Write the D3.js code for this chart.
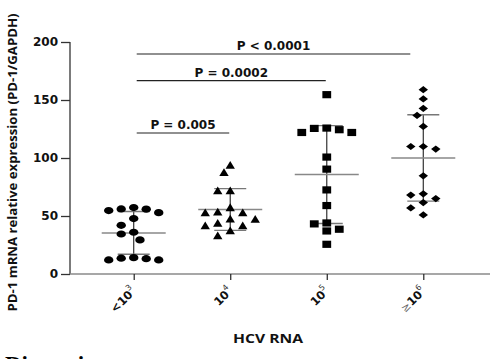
<!DOCTYPE html>
<html>
<head>
<meta charset="utf-8">
<script src="https://cdn.jsdelivr.net/npm/d3@7"></script>
<style>
  html, body { margin: 0; padding: 0; background: #fff; }
  svg { display: block; }
</style>
</head>
<body>
<svg id="chart" width="490" height="359"></svg>
<script>
// ---------- data ----------
const categories = ["g1", "g2", "g3", "g4"];
const categoryBase = ["<10", "10", "10", "\u226510"];
const categoryExp = ["3", "4", "5", "6"];
const markerShapes = ["circle", "triangle", "square", "diamond"];

const group1 = [57.3, 56.1, 55.9, 54.7, 52.9, 47.8, 42.0, 36.0, 34.5, 29.4, 14.1, 13.6, 13.2, 12.1, 12.1];
const group2 = [93.9, 87.5, 71.9, 71.9, 57.3, 53.5, 52.9, 52.9, 47.5, 47.2, 43.8, 41.7, 41.7, 37.4, 33.1];
const group3 = [154.6, 125.8, 125.5, 124.4, 122.0, 122.0, 100.8, 90.4, 72.5, 59.0, 44.0, 43.2, 38.6, 37.1, 25.6];
const group4 = [158.9, 150.9, 142.7, 136.7, 127.2, 109.9, 109.9, 107.7, 84.6, 69.1, 68.0, 65.0, 61.6, 57.0, 50.9];
const groups = [group1, group2, group3, group4];

const yTicks = [0, 50, 100, 150, 200];

const sigFrom = [0, 0, 0];
const sigTo = [1, 2, 3];
const sigLevel = [121.5, 166.7, 189.7];
const sigLabels = ["P = 0.005", "P = 0.0002", "P < 0.0001"];

const yTitle = "PD-1 mRNA relative expression (PD-1/GAPDH)";
const xTitle = "HCV RNA";

// ---------- layout ----------
const svg = d3.select("#chart");
const x0 = 70, x1 = 487, yTop = 42, yBot = 274;
const x = d3.scalePoint().domain(categories).range([x0, x1]).padding(0.66);
const y = d3.scaleLinear().domain([0, 200]).range([yBot, yTop]);

// custom marker shapes (slightly wider than tall, as in the figure)
const W = 9.4, H = 7.2;
const shapeTypes = {
  square: { draw(c) { c.rect(-W / 2 + 0.3, -H / 2, W - 0.6, H); } },
  triangle: { draw(c) { c.moveTo(0, -H / 2 - 0.6); c.lineTo(W / 2, H / 2); c.lineTo(-W / 2, H / 2); c.closePath(); } },
  diamond: { draw(c) { c.moveTo(0, -H / 2); c.lineTo(W / 2, 0); c.lineTo(0, H / 2); c.lineTo(-W / 2, 0); c.closePath(); } }
};
function ellipsePath(rx, ry) {
  return `M${-rx},0A${rx},${ry} 0 1,0 ${rx},0A${rx},${ry} 0 1,0 ${-rx},0Z`;
}

// beeswarm-like horizontal spreading
function swarm(values) {
  const order = values.map((v, i) => i).sort((a, b) => values[b] - values[a]);
  const placed = [];
  const offs = new Array(values.length).fill(0);
  const cands = [0];
  for (let k = 1; k <= 8; k++) { cands.push(-k * 6.25, k * 6.25); }
  order.forEach(i => {
    const py = y(values[i]);
    for (const dx of cands) {
      const ok = placed.every(p => {
        const a = (p.dx - dx) / 12, b = (p.py - py) / 8;
        return a * a + b * b >= 1;
      });
      if (ok) { offs[i] = dx; placed.push({ dx, py }); break; }
    }
  });
  return offs;
}

// ---------- axes ----------
const yAxis = d3.axisLeft(y).tickValues(yTicks).tickSize(9).tickPadding(3);
const gy = svg.append("g").attr("transform", `translate(${x0},0)`).call(yAxis);
gy.select(".domain").attr("stroke", "#333").attr("stroke-width", 1.3).attr("d", `M0,${yTop}V${yBot}`);
gy.selectAll(".tick line").attr("stroke", "#333").attr("stroke-width", 1.3);
gy.selectAll(".tick text")
  .attr("font-family", "DejaVu Sans, Verdana, sans-serif")
  .attr("font-weight", "bold").attr("font-size", 12).attr("fill", "#111");

const xAxis = d3.axisBottom(x).tickSize(6).tickFormat("");
const gx = svg.append("g").attr("transform", `translate(0,${yBot})`).call(xAxis);
gx.select(".domain").attr("stroke", "#8a8a8a").attr("stroke-width", 1.6).attr("d", `M${x0},0H${x1 + 3}`);
gx.selectAll(".tick line").attr("stroke", "#222").attr("stroke-width", 1.2);

// x tick labels (rotated)
categories.forEach((c, i) => {
  const t = svg.append("text")
    .attr("transform", `translate(${x(c) + 3},${yBot + 18}) rotate(-45)`)
    .attr("text-anchor", "end")
    .attr("font-family", "DejaVu Sans, Verdana, sans-serif")
    .attr("fill", "#111");
  const base = categoryBase[i];
  if (base.startsWith("\u2265")) {
    t.append("tspan").attr("font-size", 11).attr("fill", "#666").text("\u2265");
    t.append("tspan").attr("font-size", 11.5).attr("font-weight", "bold").text(base.slice(1));
  } else {
    t.append("tspan").attr("font-size", 11.5).attr("font-weight", "bold").text(base);
  }
  t.append("tspan").attr("font-size", 8).attr("dy", -6).attr("dx", -0.5).attr("fill", "#333").text(categoryExp[i]);
});

// axis titles
svg.append("text")
  .attr("transform", `translate(17,${(13 + 312) / 2}) rotate(-90)`)
  .attr("text-anchor", "middle")
  .attr("font-family", "Open Sans, sans-serif").attr("font-weight", "bold")
  .attr("font-size", 11.5).attr("fill", "#111")
  .attr("textLength", 298).attr("lengthAdjust", "spacingAndGlyphs")
  .text(yTitle);

svg.append("text")
  .attr("x", 268).attr("y", 343)
  .attr("text-anchor", "middle")
  .attr("font-family", "Open Sans, sans-serif").attr("font-weight", "bold")
  .attr("font-size", 11.5).attr("fill", "#111")
  .attr("textLength", 70).attr("lengthAdjust", "spacingAndGlyphs")
  .text(xTitle);

// ---------- data marks ----------
groups.forEach((vals, gi) => {
  const cx = x(categories[gi]);
  const mean = d3.mean(vals), sd = d3.deviation(vals);
  const g = svg.append("g");
  g.append("line").attr("x1", cx).attr("x2", cx).attr("y1", y(mean + sd)).attr("y2", y(mean - sd))
    .attr("stroke", "#333").attr("stroke-width", 1.2);
  [mean + sd, mean - sd].forEach(v => {
    g.append("line").attr("x1", cx - 16).attr("x2", cx + 16).attr("y1", y(v)).attr("y2", y(v))
      .attr("stroke", "#777").attr("stroke-width", 1.4);
  });
  g.append("line").attr("x1", cx - 32).attr("x2", cx + 32).attr("y1", y(mean)).attr("y2", y(mean))
    .attr("stroke", "#888").attr("stroke-width", 1.5);

  const offs = swarm(vals);
  const shape = markerShapes[gi];
  g.selectAll("path.pt").data(vals).join("path")
    .attr("class", "pt")
    .attr("transform", (d, i) => `translate(${cx + offs[i]},${y(d)})`)
    .attr("d", shape === "circle" ? ellipsePath(W / 2, H / 2) : d3.symbol().type(shapeTypes[shape])())
    .attr("fill", "#000");
});

// ---------- significance brackets ----------
sigLabels.forEach((lab, i) => {
  const xa = x(categories[sigFrom[i]]) + 3;
  const xb = x(categories[sigTo[i]]) - (i === 2 ? 13 : 1);
  const yy = y(sigLevel[i]);
  svg.append("line").attr("x1", xa).attr("x2", xb).attr("y1", yy).attr("y2", yy)
    .attr("stroke", "#222").attr("stroke-width", 1.1);
  svg.append("text").attr("x", (xa + xb) / 2).attr("y", yy - 4)
    .attr("text-anchor", "middle")
    .attr("font-family", "DejaVu Sans, Verdana, sans-serif").attr("font-weight", "bold")
    .attr("font-size", 12).attr("fill", "#111")
    .text(lab);
});

// page text below the figure (cut off by the frame, as in the source)
svg.append("text").attr("x", 5).attr("y", 372)
  .attr("font-family", "Liberation Serif, Times New Roman, serif").attr("font-weight", "bold")
  .attr("font-size", 23).attr("fill", "#000")
  .text("Discussion");
</script>
</body>
</html>
